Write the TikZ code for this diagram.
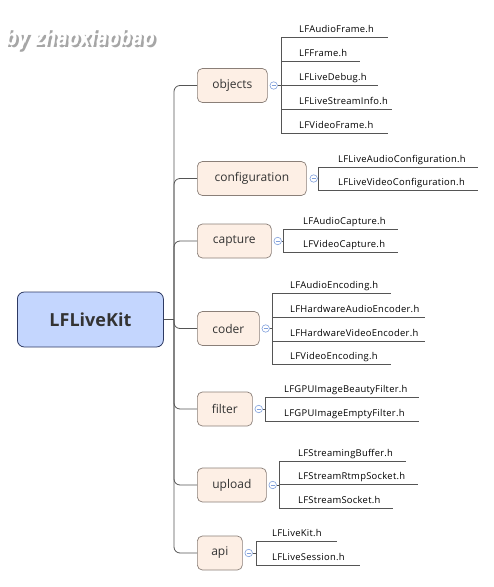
\documentclass[tikz,border=0pt]{standalone}
\usepackage{fontspec}
\setmainfont{Open Sans}
\newfontfamily\leaffont[LetterSpace=3]{Open Sans}
\newfontfamily\wmfont{DejaVu Sans}
\begin{document}
\begin{tikzpicture}[x=1pt,y=-1pt,
  rootbox/.style={draw=rootline,fill=rootfill,line width=0.8pt,rounded corners=7pt,
    minimum width=146pt,minimum height=55pt,anchor=west,inner sep=0pt,
    font=\fontsize{18}{20}\selectfont\bfseries,text=textdark},
  branchbox/.style={draw=branchline,fill=branchfill,line width=0.7pt,rounded corners=5pt,
    minimum height=34pt,anchor=west,inner sep=0pt,
    font=\fontsize{12}{14}\selectfont,text=textdark},
  leaf/.style={anchor=base west,inner sep=0pt,font=\leaffont\fontsize{9.4}{11}\selectfont,text=black},
  tree/.style={draw=treeline,line width=0.8pt},
  leafline/.style={draw=leafline,line width=0.7pt},
  wmstyle/.style={anchor=base west,inner sep=0pt,yscale=1.3,transform shape,
    font=\wmfont\fontsize{17}{18}\selectfont\bfseries\itshape},
  toggle/.style={circle,draw=togglecol,fill=white,line width=0.6pt,minimum size=7.5pt,inner sep=0pt,
    path picture={\draw[togglecol,line width=0.6pt] ([xshift=-2pt]path picture bounding box.center) -- ([xshift=2pt]path picture bounding box.center);}},
]
\definecolor{rootfill}{HTML}{C4D6FE}
\definecolor{rootline}{HTML}{2E3A63}
\definecolor{branchfill}{HTML}{FDEFE5}
\definecolor{branchline}{HTML}{8A7F78}
\definecolor{textdark}{HTML}{333333}
\definecolor{treeline}{HTML}{555555}
\definecolor{leafline}{HTML}{555555}
\definecolor{togglecol}{HTML}{7F9FDC}

\useasboundingbox (0,0) rectangle (494,587);

% watermark
\node (wmshadow) [wmstyle,text=black,opacity=0.35] at (7.5,47.5) {by zhaoxiaobao};
\node (wm) [wmstyle,text=white] at (5,45) {by zhaoxiaobao};

% root
\node (root) [rootbox] at (17,319.5) {LFLiveKit};
\coordinate (trunk) at (174,319.5);

% branches
\node (objects) [branchbox,minimum width=70pt] at (197,85.5) {objects};
\node (configuration) [branchbox,minimum width=109pt] at (197,178.5) {configuration};
\node (capture) [branchbox,minimum width=74pt] at (197,241) {capture};
\node (coder) [branchbox,minimum width=62pt] at (197,328.5) {coder};
\node (filter) [branchbox,minimum width=55pt] at (197,409) {filter};
\node (upload) [branchbox,minimum width=69pt] at (197,485) {upload};
\node (api) [branchbox,minimum width=45pt] at (197,553) {api};

\draw[tree] (root.east) -- (trunk);
\foreach \b in {objects,configuration,capture,coder,filter,upload,api}{
  \draw[tree,rounded corners=6pt] (trunk) |- (\b.west);
}

% toggles and leaf groups
% objects
\node (t1) [toggle] at ([xshift=6pt]objects.east) {};
\coordinate (v1) at (281,85.5);
\draw[leafline] (t1.east) -- (v1);
\draw[leafline] (281,37) -- (281,133);
\foreach \y/\e/\t in {37/388/LFAudioFrame.h,61/360/LFFrame.h,85/378/LFLiveDebug.h,109/392/LFLiveStreamInfo.h,133/388/LFVideoFrame.h}{
  \draw[leafline] (281,\y) -- (\e,\y);
  \node[leaf] at (299,\y-4.5) {\t};
}
% configuration
\node (t2) [toggle] at ([xshift=7pt]configuration.east) {};
\coordinate (v2) at (318,178.5);
\draw[leafline] (t2.east) -- (v2);
\draw[leafline] (318,167) -- (318,190);
\foreach \y/\e/\t in {167/478/LFLiveAudioConfiguration.h,190/478/LFLiveVideoConfiguration.h}{
  \draw[leafline] (318,\y) -- (\e,\y);
  \node[leaf] at (338,\y-4.5) {\t};
}
% capture
\node (t3) [toggle] at ([xshift=6pt]capture.east) {};
\coordinate (v3) at (283,241);
\draw[leafline] (t3.east) -- (v3);
\draw[leafline] (283,229) -- (283,252);
\foreach \y/\e/\t in {229/398/LFAudioCapture.h,252/398/LFVideoCapture.h}{
  \draw[leafline] (283,\y) -- (\e,\y);
  \node[leaf] at (303,\y-4.5) {\t};
}
% coder
\node (t4) [toggle] at ([xshift=6pt]coder.east) {};
\coordinate (v4) at (272,328.5);
\draw[leafline] (t4.east) -- (v4);
\draw[leafline] (272,293) -- (272,364);
\foreach \y/\e/\t in {293/391/LFAudioEncoding.h,317/425/LFHardwareAudioEncoder.h,341/425/LFHardwareVideoEncoder.h,364/391/LFVideoEncoding.h}{
  \draw[leafline] (272,\y) -- (\e,\y);
  \node[leaf] at (290,\y-4.5) {\t};
}
% filter
\node (t5) [toggle] at ([xshift=6pt]filter.east) {};
\coordinate (v5) at (265,409);
\draw[leafline] (t5.east) -- (v5);
\draw[leafline] (265,397) -- (265,421);
\foreach \y/\e/\t in {397/419/LFGPUImageBeautyFilter.h,421/419/LFGPUImageEmptyFilter.h}{
  \draw[leafline] (265,\y) -- (\e,\y);
  \node[leaf] at (284,\y-4.5) {\t};
}
% upload
\node (t6) [toggle] at ([xshift=6pt]upload.east) {};
\coordinate (v6) at (279,485);
\draw[leafline] (t6.east) -- (v6);
\draw[leafline] (279,461) -- (279,508);
\foreach \y/\e/\t in {461/406/LFStreamingBuffer.h,484/418/LFStreamRtmpSocket.h,508/393/LFStreamSocket.h}{
  \draw[leafline] (279,\y) -- (\e,\y);
  \node[leaf] at (298,\y-4.5) {\t};
}
% api
\node (t7) [toggle] at ([xshift=6pt]api.east) {};
\coordinate (v7) at (256,553);
\draw[leafline] (t7.east) -- (v7);
\draw[leafline] (256,541) -- (256,565);
\foreach \y/\e/\t in {541/337/LFLiveKit.h,565/360/LFLiveSession.h}{
  \draw[leafline] (256,\y) -- (\e,\y);
  \node[leaf] at (272,\y-4.5) {\t};
}
\end{tikzpicture}
\end{document}
